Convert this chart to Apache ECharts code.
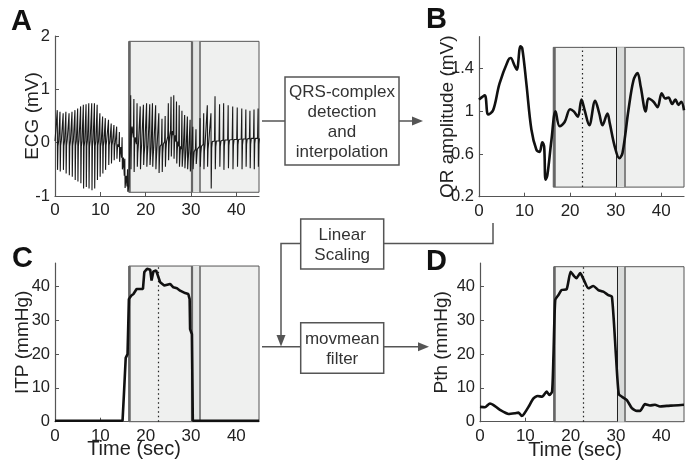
<!DOCTYPE html>
<html>
<head>
<meta charset="UTF-8">
<title></title>
<script src="https://cdn.jsdelivr.net/npm/echarts@6/dist/echarts.min.js"></script>
</head>
<body style="margin:0">
<div id="container" style="width:688px;height:466px"></div>
<script type="text/javascript">
// ECG beats (A): time, spike top, spike bottom, baseline band top / bottom (mV)
var ecgT = [0.5,1.1,1.8,2.4,3.1,3.75,4.4,5.0,5.65,6.25,6.85,7.45,8.1,8.7,9.3,9.9,10.5,11.1,11.8,12.4,13.0,13.6,14.2,14.8,15.4,16.0,
  16.7,17.4,18.1,18.8,19.5,20.2,20.9,21.5,22.2,22.9,23.6,24.3,25.0,25.6,26.2,26.8,27.4,28.0,28.6,29.2,29.8,30.4,31.1,32.0,32.8,33.6,34.4,35.3,36.3,37.2,38.2,39.2,40.2,41.2,42.1,43.0,43.9,44.8];
var ecgHi = [0.61,0.58,0.55,0.58,0.55,0.58,0.61,0.64,0.68,0.71,0.72,0.74,0.74,0.74,0.71,0.55,0.49,0.46,0.43,0.36,0.33,0.3,0.2,0.1,-0.3,-0.5,
  0.89,0.82,0.74,0.68,0.71,0.74,0.72,0.74,0.7,0.55,0.45,0.5,0.74,0.86,0.89,0.77,0.7,0.6,0.52,0.49,0.43,0.3,0.25,0.46,0.55,0.7,0.55,0.87,0.72,0.74,0.7,0.68,0.66,0.64,0.62,0.6,0.62,0.64];
var ecgLo = [-0.51,-0.54,-0.51,-0.58,-0.61,-0.64,-0.7,-0.73,-0.76,-0.86,-0.83,-0.86,-0.89,-0.86,-0.7,-0.64,-0.58,-0.51,-0.42,-0.39,-0.33,-0.3,-0.36,-0.5,-0.85,-0.92,
  -0.5,-0.55,-0.45,-0.5,-0.42,-0.45,-0.42,-0.45,-0.5,-0.57,-0.55,-0.45,-0.33,-0.26,-0.3,-0.39,-0.45,-0.45,-0.48,-0.5,-0.54,-0.5,-0.4,-0.45,-0.5,-0.45,-0.86,-0.5,-0.45,-0.51,-0.48,-0.5,-0.45,-0.5,-0.45,-0.48,-0.5,-0.45];
var ecgBase = [0.03,0.04,0.03,0.05,0.03,0.04,0.03,0.05,0.03,0.03,0.04,0.03,0.05,0.03,0.03,0.01,0.03,0.04,0.03,0.03,0,-0.03,-0.08,-0.28,-0.62,-0.82,
  0.3,0.1,-0.03,-0.05,-0.07,-0.07,-0.09,-0.07,-0.09,-0.07,-0.03,0.02,0.12,0.22,0.14,0.02,-0.07,-0.12,-0.15,-0.17,-0.17,-0.17,-0.12,-0.07,-0.03,0,0.02,0.03,0.03,0.05,0.05,0.06,0.06,0.07,0.07,0.08,0.08,0.08];
var ecgBand = [-0.06,-0.05,-0.06,-0.05,-0.07,-0.06,-0.05,-0.06,-0.07,-0.08,-0.06,-0.08,-0.07,-0.06,-0.05,-0.07,-0.06,-0.05,-0.04,-0.05,-0.08,-0.12,-0.2,-0.45,-0.75,-0.9,
  0.15,-0.05,-0.2,-0.25,-0.22,-0.25,-0.28,-0.25,-0.3,-0.28,-0.2,-0.15,-0.05,0.05,-0.02,-0.15,-0.25,-0.3,-0.32,-0.35,-0.35,-0.33,-0.28,-0.2,-0.15,-0.12,-0.1,-0.08,-0.07,-0.06,-0.05,-0.05,-0.04,-0.04,-0.03,-0.03,-0.02,-0.03];

// QR amplitude (B)
var qrT = [0,1.25,2.0,3.1,4.5,6.4,6.95,7.8,8.3,9.1,9.5,10.4,11.5,12.6,13.3,13.9,14.3,14.6,15.0,15.9,16.8,17.7,18.8,20.0,20.8,21.7,22.5,23.2,24.2,25.5,26.4,27.1,28.2,28.7,29.8,30.8,31.5,32.8,33.9,34.8,35.5,36.6,37.2,38.3,39.2,40.1,40.9,41.6,42.4,43.1,43.8,44.4,45];
var qrV = [1.11,1.15,0.97,1.01,1.26,1.48,1.5,1.43,1.39,1.61,1.59,1.26,0.83,0.64,0.62,0.71,0.67,0.36,0.40,0.73,1.0,0.86,0.90,1.02,1.0,0.95,1.11,1.01,0.87,1.10,0.98,0.87,0.98,0.89,0.67,0.56,0.61,1.01,1.29,1.36,1.23,1.0,1.12,1.09,1.04,1.17,1.12,1.13,1.07,1.11,1.06,1.09,1.01];

// ITP (C)
var itpT = [0,14.9,15.2,15.4,15.6,16.0,16.3,16.8,17.3,18.0,19.4,19.7,20.3,21.0,21.3,21.7,22.3,23.2,24.1,25.4,26.1,26.9,27.6,28.7,29.4,29.7,29.8,30.2,30.4,45];
var itpV = [0.3,0.3,8,8.5,18.9,20,36.3,37.3,37.8,39.3,39.3,44.3,45.3,45,41.8,44.5,44.8,41.3,40.3,40.8,39.8,39.5,38.8,38.1,37.8,36.3,27.4,25.9,0.3,0.3];

// Pth (D)
var pthT = [0,1.1,2.2,2.9,4.4,6.3,7.7,8.5,8.8,9.2,9.7,10.7,11.8,12.7,13.7,14.7,15.3,15.9,16.2,16.6,17.3,18.0,19.1,20.0,20.7,21.3,22.1,22.8,23.9,25.0,26.1,27.2,28.3,29.1,30.0,30.6,31.3,32.4,33.5,34.6,35.3,36.4,37.5,38.6,39.7,41.2,42.7,45];
var pthV = [4.4,4.3,5.4,5.0,3.5,2.3,2.5,2.7,2.3,1.7,2.3,4.4,6.9,7.6,7.4,8.9,7.9,8.9,19.3,36.1,37.5,39.0,39.2,44.4,43.2,42.5,44.0,42.3,39.5,40.2,39.0,38.5,37.5,37.0,19.3,8.2,7.4,6.4,4.0,3.2,3.2,5.2,4.8,5.0,4.5,4.7,4.8,5.0];

// tick labels
var xTicks = [0, 10, 20, 30, 40];
var ecgTicks = [-1, 0, 1, 2];
var qrTicks = [0.2, 0.6, 1, 1.4];
var mmTicks = [0, 10, 20, 30, 40];

// event times (sec) and shaded box heights per panel
var shadeX = [16.3, 45];
var bandX = [30.2, 31.9];
var onsetX = 16.45;
var dotX = 22.7;
var shadeA = [-0.93, 1.9], shadeB = [0.29, 1.6], shadeC = [0, 46.1], shadeD = [0, 45.9];

var FONT = 'Liberation Sans';
var AX = '#555';

function pairs(xs, ys) {
  var out = [];
  for (var i = 0; i < xs.length; i++) out.push([xs[i], ys[i]]);
  return out;
}

function ecgPoints() {
  var out = [[0, ecgBase[0]]];
  for (var i = 0; i < ecgT.length; i++) {
    var t = ecgT[i];
    out.push([t - 0.12, ecgBase[i]]);
    out.push([t, ecgHi[i]]);
    out.push([t + 0.06, ecgLo[i]]);
    out.push([t + 0.16, ecgBand[i]]);
    out.push([t + 0.3, ecgBase[i]]);
  }
  out.push([45, ecgBase[ecgBase.length - 1]]);
  return out;
}

function xAx(g) {
  return {
    type: 'value', gridIndex: g, min: 0, max: 45,
    axisLine: { show: true, onZero: false, lineStyle: { color: AX, width: 1.2 } },
    axisTick: { show: true, inside: true, length: 4, customValues: xTicks, lineStyle: { color: AX } },
    axisLabel: { customValues: xTicks, color: '#222', fontSize: 17, fontFamily: FONT, margin: 6 },
    splitLine: { show: false }
  };
}

function yAx(g, min, max, ticks, name, gap) {
  return {
    type: 'value', gridIndex: g, min: min, max: max,
    name: name, nameLocation: 'middle', nameGap: gap, nameMoveOverlap: false,
    nameTextStyle: { color: '#222', fontSize: 19, fontFamily: FONT },
    axisLine: { show: true, lineStyle: { color: AX, width: 1.2 } },
    axisTick: { show: true, inside: true, length: 4, customValues: ticks, lineStyle: { color: AX } },
    axisLabel: { customValues: ticks, color: '#222', fontSize: 16.5, fontFamily: FONT, margin: 5 },
    splitLine: { show: false }
  };
}

function shade(yr, bandColor) {
  return {
    silent: true,
    itemStyle: { color: '#eff0ef', borderColor: '#555', borderWidth: 1 },
    data: [
      [{ xAxis: shadeX[0], yAxis: yr[1] }, { xAxis: shadeX[1], yAxis: yr[0] }],
      [{ xAxis: bandX[0], yAxis: yr[1], itemStyle: { color: bandColor, borderWidth: 0 } }, { xAxis: bandX[1], yAxis: yr[0] }]
    ]
  };
}

function vlines(yr, thickBand, dotted) {
  var d = [
    [{ coord: [onsetX, yr[0]], lineStyle: { color: '#666', width: 2.5, type: 'solid' } }, { coord: [onsetX, yr[1]] }],
    [{ coord: [bandX[0], yr[0]], lineStyle: thickBand ? { color: '#666', width: 2.2, type: 'solid' } : { color: '#222', width: 1, type: 'solid' } }, { coord: [bandX[0], yr[1]] }],
    [{ coord: [bandX[1], yr[0]], lineStyle: { color: '#777', width: 1.8, type: 'solid' } }, { coord: [bandX[1], yr[1]] }]
  ];
  if (dotted) d.push([{ coord: [dotX, yr[0]], lineStyle: { color: '#222', width: 1.2, type: [1.5, 3] } }, { coord: [dotX, yr[1]] }]);
  return { silent: true, symbol: ['none', 'none'], label: { show: false }, emphasis: { disabled: true }, data: d };
}

function box(x, y, w, h, txt) {
  return [
    { type: 'rect', shape: { x: x, y: y, width: w, height: h }, style: { fill: '#fff', stroke: '#555', lineWidth: 1.5 } },
    { type: 'text', x: x + w / 2, y: y + h / 2 + 1, style: { text: txt, fill: '#333', font: '17px "' + FONT + '"', align: 'center', verticalAlign: 'middle', lineHeight: 20 } }
  ];
}
function pl(pts) {
  return { type: 'polyline', shape: { points: pts }, style: { stroke: '#555', lineWidth: 1.5, fill: null } };
}
function head(pts) {
  return { type: 'polygon', shape: { points: pts }, style: { fill: '#555' } };
}
function letter(x, y, s) {
  return { type: 'text', x: x, y: y, style: { text: s, fill: '#111', font: 'bold 29px "' + FONT + '"', align: 'left', verticalAlign: 'middle' } };
}
function label(x, y, s) {
  return { type: 'text', x: x, y: y, style: { text: s, fill: '#222', font: '20px "' + FONT + '"', align: 'center', verticalAlign: 'middle' } };
}

var graphics = [].concat(
  pl([[262, 121], [285, 121]]),
  pl([[399, 121], [414, 121]]),
  head([[412, 116.5], [423, 121], [412, 125.5]]),
  pl([[493, 223], [493, 243.5], [383.7, 243.5]]),
  pl([[300.7, 243.5], [281, 243.5], [281, 337]]),
  head([[276.5, 335], [281, 346.5], [285.5, 335]]),
  pl([[262, 346.7], [300.7, 346.7]]),
  pl([[383.7, 346.7], [420, 346.7]]),
  head([[418, 342.2], [429, 346.7], [418, 351.2]]),
  box(285, 77, 114, 88, 'QRS-complex\ndetection\nand\ninterpolation'),
  box(300.7, 219, 83, 50, 'Linear\nScaling'),
  box(300.7, 322.7, 83, 50.6, 'movmean\nfilter'),
  letter(11, 22, 'A'), letter(426, 19.5, 'B'), letter(12, 258.5, 'C'), letter(426, 261.5, 'D'),
  label(134, 449, 'Time (sec)'), label(575, 450, 'Time (sec)')
);

var dom = document.getElementById('container');
var myChart = echarts.init(dom, null, { renderer: 'canvas' });

var option = {
  animation: false,
  backgroundColor: '#fff',
  grid: [
    { left: 55, top: 36, width: 204, height: 160 },
    { left: 479, top: 36.7, width: 205, height: 160 },
    { left: 55, top: 263, width: 204, height: 158.7 },
    { left: 480, top: 263, width: 204, height: 158.7 }
  ],
  xAxis: [xAx(0), xAx(1), xAx(2), xAx(3)],
  yAxis: [
    yAx(0, -1, 2, ecgTicks, 'ECG (mV)', 13),
    yAx(1, 0.2, 1.7, qrTicks, 'QR amplitude (mV)', 22),
    yAx(2, 0, 47, mmTicks, 'ITP (mmHg)', 23),
    yAx(3, 0, 47, mmTicks, 'Pth (mmHg)', 29)
  ],
  series: [
    {
      type: 'line', xAxisIndex: 0, yAxisIndex: 0, data: ecgPoints(), showSymbol: false,
      lineStyle: { color: '#1a1a1a', width: 1.1 }, z: 5,
      markArea: shade(shadeA, '#e3e5e4'), markLine: vlines(shadeA, true, false)
    },
    {
      type: 'line', xAxisIndex: 1, yAxisIndex: 1, data: pairs(qrT, qrV), showSymbol: false, smooth: 0.35,
      lineStyle: { color: '#111', width: 2.6 }, z: 5,
      markArea: shade(shadeB, '#d9dbda'), markLine: vlines(shadeB, false, true)
    },
    {
      type: 'line', xAxisIndex: 2, yAxisIndex: 2, data: pairs(itpT, itpV), showSymbol: false,
      lineStyle: { color: '#111', width: 2.6 }, z: 5,
      markArea: shade(shadeC, '#e3e5e4'), markLine: vlines(shadeC, true, true)
    },
    {
      type: 'line', xAxisIndex: 3, yAxisIndex: 3, data: pairs(pthT, pthV), showSymbol: false, smooth: 0.2,
      lineStyle: { color: '#111', width: 2.6 }, z: 5,
      markArea: shade(shadeD, '#d9dbda'), markLine: vlines(shadeD, false, true)
    }
  ],
  graphic: graphics
};

if (option && typeof option === "object") {
  myChart.setOption(option, true);
}
</script>
</body>
</html>
